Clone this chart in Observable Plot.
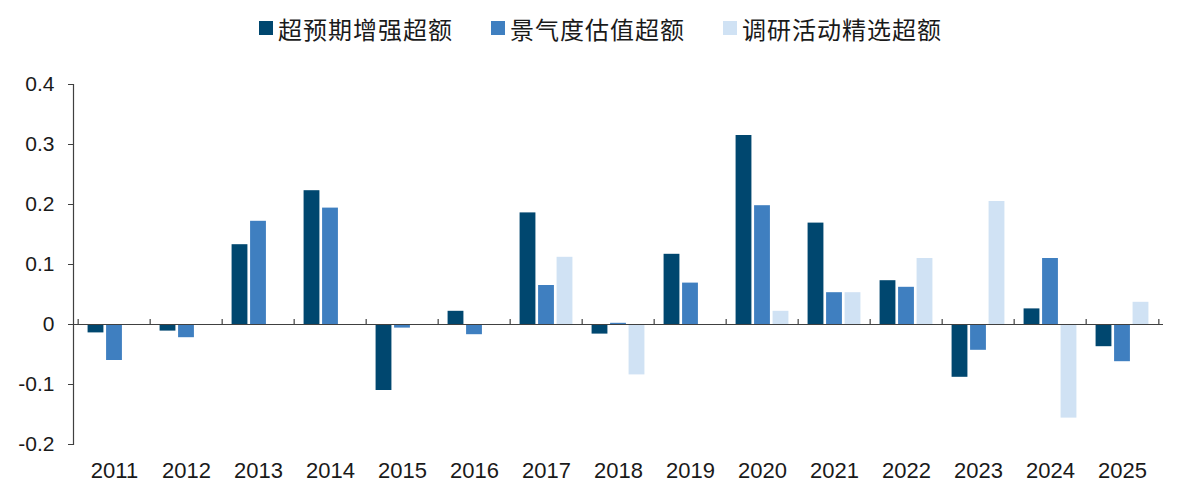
<!DOCTYPE html>
<html>
<head>
<meta charset="utf-8">
<script src="https://cdn.jsdelivr.net/npm/d3@7"></script>
<script src="https://cdn.jsdelivr.net/npm/@observablehq/plot@0.6"></script>
<style>
  html, body { margin: 0; padding: 0; background: #ffffff; }
  #legend { height: 50px; display: flex; justify-content: center; align-items: center; padding-left: 22px; padding-top: 6px; box-sizing: border-box;
    font-family: "Noto Sans CJK SC", sans-serif; font-size: 24px; letter-spacing: 1px; color: #1a1a1a; }
  .item { display: flex; align-items: center; margin: 0 19px; }
  .sw { width: 14px; height: 14px; margin-right: 5px; display: inline-block; }
</style>
</head>
<body>
<div id="legend"></div>
<div id="chart"></div>
<script>
const years = ["2011","2012","2013","2014","2015","2016","2017","2018","2019","2020","2021","2022","2023","2024","2025"];
const seriesNames = ["超预期增强超额", "景气度估值超额", "调研活动精选超额"];
const seriesColors = ["#00476f", "#3f7fc0", "#d0e2f4"];
const s1 = [-0.014, -0.011, 0.133, 0.223, -0.110, 0.022, 0.186, -0.016, 0.117, 0.315, 0.169, 0.073, -0.088, 0.026, -0.037];
const s2 = [-0.060, -0.022, 0.172, 0.194, -0.006, -0.017, 0.065, 0.002, 0.069, 0.198, 0.053, 0.062, -0.043, 0.110, -0.062];
const s3 = [null, null, null, null, null, null, 0.112, -0.084, null, 0.022, 0.053, 0.110, 0.205, -0.156, 0.037];
const yTicks = [-0.2, -0.1, 0, 0.1, 0.2, 0.3, 0.4];
const yTickLabels = ["-0.2", "-0.1", "0", "0.1", "0.2", "0.3", "0.4"];

const W = 1179, H = 445, mL = 73, mR = 16, mT = 34, mB = 51;
const band = (W - mL - mR) / years.length;
const barW = 16.5, step = 18.5;
const inset = (band - barW) / 2;

const seriesValues = [s1, s2, s3];
const table = seriesValues.map(vals => years.map((y, i) => ({year: y, value: vals[i]})).filter(d => d.value != null));

// legend
const leg = document.getElementById("legend");
seriesNames.forEach((n, i) => {
  const it = document.createElement("div"); it.className = "item";
  const sw = document.createElement("span"); sw.className = "sw"; sw.style.background = seriesColors[i];
  const tx = document.createElement("span"); tx.textContent = n;
  it.appendChild(sw); it.appendChild(tx); leg.appendChild(it);
});

const chart = Plot.plot({
  width: W, height: H,
  marginLeft: mL, marginRight: mR, marginTop: mT, marginBottom: mB,
  style: {fontFamily: "Liberation Sans, Arial, sans-serif", fontSize: "21px", color: "#1a1a1a", background: "#ffffff"},
  x: {domain: years, padding: 0},
  y: {domain: [-0.2, 0.4]},
  marks: [
    ...table.map((data, k) => Plot.barY(data, {
      x: "year", y: "value", fill: seriesColors[k],
      insetLeft: inset, insetRight: inset, dx: (k - 1) * step
    })),
    Plot.ruleY([0], {stroke: "#404040", strokeWidth: 1.2}),
    Plot.ruleX(years, {x: d => d, y1: 0, y2: 0.0085, dx: -band / 2, stroke: "#404040", strokeWidth: 1.2}),
    Plot.ruleX([years[years.length - 1]], {x: d => d, y1: 0, y2: 0.0085, dx: band / 2, stroke: "#404040", strokeWidth: 1.2}),
    Plot.frame({anchor: "left", stroke: "#404040", strokeWidth: 1.2}),
    Plot.axisY({ticks: yTicks, tickFormat: (d) => yTickLabels[yTicks.findIndex(t => Math.abs(t - d) < 1e-9)], tickSize: 5, tickPadding: 14, label: null, stroke: "#404040", fontSize: 21}),
    Plot.axisX({tickSize: 0, tickPadding: 18, label: null, fontSize: 22})
  ]
});
document.getElementById("chart").appendChild(chart);
</script>
</body>
</html>
